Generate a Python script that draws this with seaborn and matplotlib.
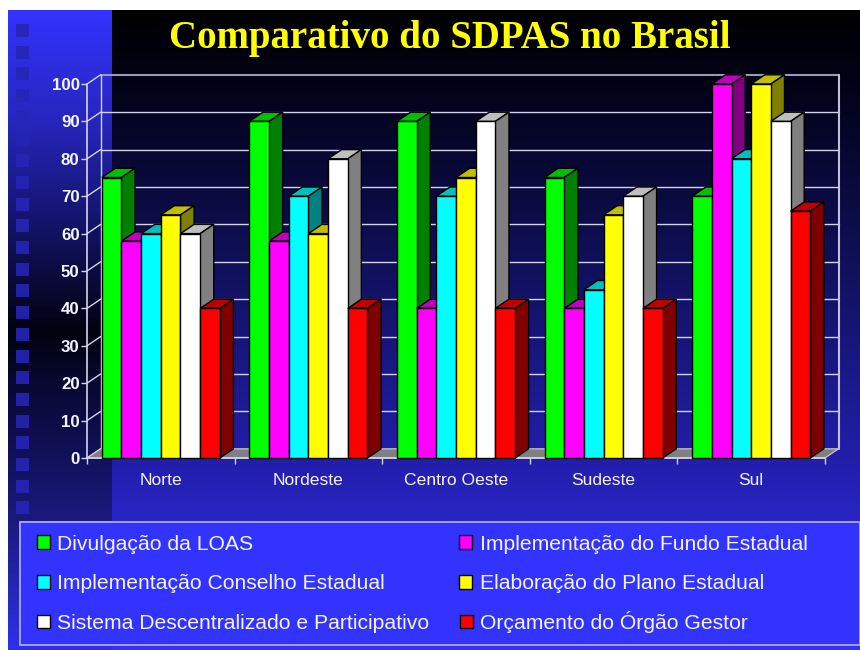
import numpy as np
import pandas as pd
import matplotlib
matplotlib.use("Agg")
import matplotlib.pyplot as plt
from matplotlib.colors import to_rgb
from matplotlib.patches import Polygon, Rectangle, Patch
from matplotlib.ticker import FixedLocator
import seaborn as sns

regioes = ["Norte", "Nordeste", "Centro Oeste", "Sudeste", "Sul"]
series = ["Divulgação da LOAS", "Implementação do Fundo Estadual",
          "Implementação Conselho Estadual", "Elaboração do Plano Estadual",
          "Sistema Descentralizado e Participativo", "Orçamento do Órgão Gestor"]
divulgacao = [75, 90, 90, 75, 70]
fundo = [58, 58, 40, 40, 100]
conselho = [60, 70, 70, 45, 80]
plano = [65, 60, 75, 65, 100]
sistema = [60, 80, 90, 70, 90]
orcamento = [40, 40, 40, 40, 66]
cores = ["#00ff00", "#ff00ff", "#00ffff", "#ffff00", "#ffffff", "#ff0000"]
yticks = list(range(0, 101, 10))

W, H = 860, 650
sns.set_theme(style="white")
plt.rcParams["font.family"] = ["Liberation Sans", "DejaVu Sans"]
fig = plt.figure(figsize=(W / 100, H / 100), dpi=100, facecolor="white")

# ---------- backdrop (pixel coordinates) ----------
bg = fig.add_axes([0, 0, 1, 1], zorder=0)
bg.set_axis_off()
yy = np.arange(H)
def grad(stops):
    ys = [s[0] for s in stops]
    return np.stack([np.interp(yy, ys, [s[1][c] for s in stops]) for c in range(3)], axis=1)
left_g = grad([(10, (51, 51, 255)), (120, (38, 38, 190)), (230, (18, 18, 100)), (330, (2, 2, 15)),
               (400, (10, 10, 60)), (520, (26, 26, 125)), (650, (48, 48, 235))])
main_g = grad([(10, (0, 0, 0)), (90, (2, 2, 25)), (250, (15, 15, 85)), (458, (34, 30, 170)), (650, (51, 51, 255))])
img = np.full((H, W, 3), 255.0)
img[10:, 8:112] = left_g[10:, None, :]
img[10:, 112:] = main_g[10:, None, :]
bg.imshow(img.astype(np.uint8), extent=(0, W, H, 0), aspect="auto", interpolation="nearest")
bg.set_xlim(0, W)
bg.set_ylim(H, 0)
for top in np.arange(24, 520, 21.7):
    bg.add_patch(Rectangle((16, top), 13, 13, fc="#2525b5", ec="none", alpha=0.9))
bg.add_patch(Rectangle((20, 522), 840, 123, fc="#3333ff", ec="#aaaaff", lw=1.3))

# ---------- chart ----------
ax = fig.add_axes([87 / W, 1 - 458 / H, 738 / W, 374 / H], zorder=1)
ax.patch.set_alpha(0)
valores = [divulgacao, fundo, conselho, plano, sistema, orcamento]
df = pd.DataFrame({"regiao": regioes * len(series),
                   "serie": [s for s in series for _ in regioes],
                   "valor": [v for col in valores for v in col]})
sns.barplot(data=df, x="regiao", y="valor", hue="serie", order=regioes, hue_order=series,
            palette=cores, saturation=1, width=0.8, gap=0, edgecolor="black", linewidth=1,
            legend=False, ax=ax)
ax.set_xlim(-0.5, len(regioes) - 0.5)
ax.set_ylim(0, 100)
ax.set_xlabel("")
ax.set_ylabel("")
DX = 13.6 / 147.6
DY = 9.2 / 3.74
x0, x1 = ax.get_xlim()

# walls and floor
wall = "#d4d4ee"
for v in yticks:
    col, lw = ("#9a9ab8", 1.5) if v == 100 else (wall, 1.0)
    if v > 0:
        ax.plot([x0 + DX, x1 + DX], [v + DY, v + DY], color=col, lw=lw, clip_on=False, zorder=1)
    ax.plot([x0, x0 + DX], [v, v + DY], color=wall, lw=1, clip_on=False, zorder=1)
ax.plot([x0 + DX, x0 + DX], [DY, 100 + DY], color=wall, lw=1, clip_on=False, zorder=1)
ax.plot([x1 + DX, x1 + DX], [DY, 100 + DY], color="#c0c0dc", lw=1.5, clip_on=False, zorder=1)
ax.add_patch(Polygon([(x0, 0), (x1, 0), (x1 + DX, DY), (x0 + DX, DY)], closed=True,
                     fc="#808080", ec="#d0d0d0", lw=0.8, clip_on=False, zorder=1.5))

# 3D sides built from each bar seaborn drew
bars = sorted([p for c in ax.containers for p in c.patches], key=lambda p: p.get_x())
for k, b in enumerate(bars):
    x, w, h = b.get_x(), b.get_width(), b.get_height()
    base = np.array(to_rgb(b.get_facecolor()[:3]))
    z = 10 + k
    ax.add_patch(Polygon([(x, h), (x + w, h), (x + w + DX, h + DY), (x + DX, h + DY)], closed=True,
                         fc=base * 0.75, ec="black", lw=1, clip_on=False, zorder=z))
    ax.add_patch(Polygon([(x + w, 0), (x + w + DX, DY), (x + w + DX, h + DY), (x + w, h)], closed=True,
                         fc=base * 0.5, ec="black", lw=1, clip_on=False, zorder=z))
    b.set_zorder(z + 0.5)
    b.set_clip_on(False)

# axes furniture
for s in ["top", "right"]:
    ax.spines[s].set_visible(False)
for s in ["left", "bottom"]:
    ax.spines[s].set_color(wall)
    ax.spines[s].set_linewidth(1.2)
txt = "#f4f4ff"
ax.set_yticks(yticks)
ax.tick_params(axis="y", left=True, length=4.3, width=1, color=wall, pad=1, labelsize=12.2, labelcolor=txt)
for t in ax.get_yticklabels():
    t.set_fontweight("bold")
ax.xaxis.set_minor_locator(FixedLocator(np.arange(x0, x1 + 0.5)))
ax.tick_params(axis="x", which="major", length=0, pad=10.5, labelsize=12.6, labelcolor=txt)
ax.tick_params(axis="x", which="minor", bottom=True, length=4.5, width=1, color=wall)

# title
fig.text(449.5 / W, 1 - 48 / H, "Comparativo do SDPAS no Brasil", color="#ffff00",
         family=["Liberation Serif"], fontweight="bold", fontsize=28, ha="center", va="baseline")

# legend (last entry apart: its capital with accent would push its row down)
kw = dict(frameon=False, borderaxespad=0, borderpad=0, fontsize=15.2, labelcolor="#f4f4ff",
          handlelength=0.62, handleheight=0.62, handletextpad=0.35, labelspacing=0.98)
order = [0, 2, 4, 1, 3]
fig.legend([Patch(fc=cores[i], ec="black", lw=1) for i in order], [series[i] for i in order],
           ncols=2, loc="upper left", bbox_to_anchor=(37 / W, 1 - 534.5 / H), columnspacing=1.4, **kw)
fig.legend([Patch(fc=cores[5], ec="black", lw=1)], [series[5]],
           loc="center left", bbox_to_anchor=(460 / W, 1 - 622 / H), **kw)

fig.savefig("out.png", dpi=100, facecolor="white")
